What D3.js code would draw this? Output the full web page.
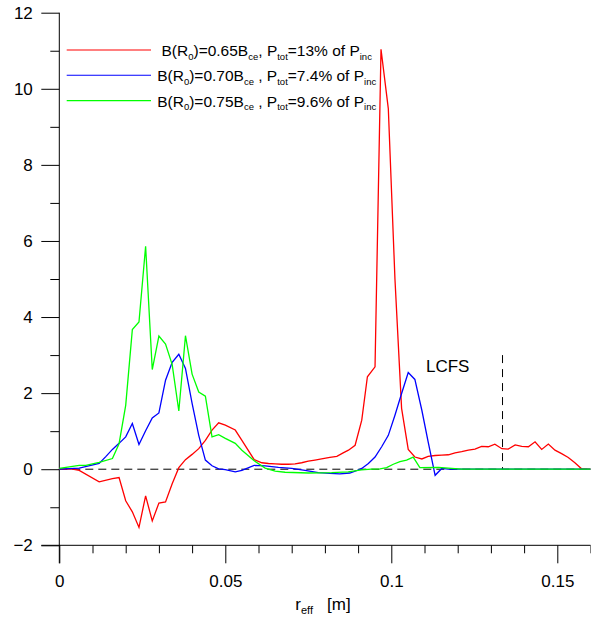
<!DOCTYPE html>
<html>
<head>
<meta charset="utf-8">
<script src="https://cdn.jsdelivr.net/npm/d3@7"></script>
<style>
  html, body { margin: 0; padding: 0; background: #fff; }
  svg { display: block; font-family: "Liberation Sans", Arial, sans-serif; }
</style>
</head>
<body>
<svg id="chart" width="591" height="618"></svg>
<script>
// Absorbed power density profiles vs effective radius for three field values

// B(R0)=0.65 Bce
const rRed = [0, 0.002, 0.004, 0.006, 0.012, 0.016, 0.018, 0.020, 0.022, 0.024, 0.026, 0.028, 0.030, 0.032,
  0.034, 0.036, 0.038, 0.040, 0.042, 0.044, 0.046, 0.048, 0.050, 0.053, 0.055, 0.0587, 0.061, 0.063, 0.065,
  0.067, 0.069, 0.071, 0.073, 0.075, 0.077, 0.079, 0.0815, 0.0836, 0.0855, 0.0871, 0.0891, 0.0911, 0.0928,
  0.0951, 0.0969, 0.0991, 0.1011, 0.1031, 0.1051, 0.1071, 0.1092, 0.1111, 0.1132, 0.1152, 0.1172, 0.1192,
  0.1212, 0.1232, 0.1252, 0.1272, 0.1292, 0.1312, 0.1333, 0.1352, 0.1373, 0.1393, 0.1413, 0.1433, 0.1453,
  0.1473, 0.1493, 0.1513, 0.1533, 0.1553, 0.1573, 0.16];
const pRed = [0, 0, 0, -0.03, -0.33, -0.25, -0.22, -0.83, -1.12, -1.53, -0.70, -1.36, -0.89, -0.86,
  -0.38, 0.04, 0.25, 0.39, 0.54, 0.76, 1.03, 1.22, 1.16, 1.03, 0.76, 0.25, 0.17, 0.15, 0.14,
  0.13, 0.13, 0.14, 0.17, 0.21, 0.24, 0.27, 0.31, 0.34, 0.43, 0.50, 0.63, 1.29, 2.43,
  2.69, 11.04, 9.48, 5.0, 1.6, 0.52, 0.32, 0.27, 0.34, 0.36, 0.37, 0.38, 0.43,
  0.46, 0.50, 0.53, 0.60, 0.59, 0.66, 0.54, 0.53, 0.64, 0.60, 0.59, 0.72, 0.52,
  0.66, 0.50, 0.41, 0.31, 0.17, 0.01, 0];

// B(R0)=0.70 Bce
const rBlue = [0, 0.006, 0.012, 0.014, 0.016, 0.018, 0.020, 0.022, 0.024, 0.026, 0.028, 0.030, 0.032, 0.034,
  0.036, 0.038, 0.040, 0.042, 0.044, 0.046, 0.048, 0.050, 0.053, 0.055, 0.0587, 0.062, 0.066, 0.070, 0.074,
  0.078, 0.0815, 0.0845, 0.0875, 0.0895, 0.0911, 0.0931, 0.0951, 0.0971, 0.0991, 0.1011, 0.1031, 0.1051,
  0.1071, 0.1092, 0.1111, 0.1132, 0.1152, 0.1172, 0.16];
const pBlue = [0, 0.03, 0.15, 0.33, 0.52, 0.68, 0.85, 1.20, 0.65, 1.01, 1.35, 1.48, 2.34, 2.81,
  3.02, 2.65, 1.73, 0.89, 0.24, 0.09, 0.01, -0.01, -0.07, -0.03, 0.10, 0.09, 0.05, 0.02, -0.03,
  -0.09, -0.11, -0.12, -0.10, -0.04, 0.02, 0.15, 0.32, 0.59, 0.89, 1.42, 1.99, 2.54,
  2.36, 1.55, 0.72, -0.16, 0.02, 0.0, 0.0];

// B(R0)=0.75 Bce
const rGreen = [0, 0.006, 0.008, 0.012, 0.016, 0.018, 0.020, 0.022, 0.024, 0.026, 0.028, 0.030, 0.032, 0.034,
  0.036, 0.038, 0.040, 0.042, 0.044, 0.046, 0.048, 0.050, 0.053, 0.055, 0.0587, 0.062, 0.065, 0.068, 0.075,
  0.082, 0.087, 0.091, 0.094, 0.0966, 0.0986, 0.1006, 0.1026, 0.1046, 0.1066, 0.1086, 0.1142, 0.1172,
  0.1212, 0.16];
const pGreen = [0.02, 0.1, 0.1, 0.18, 0.28, 0.67, 1.68, 3.67, 3.87, 5.86, 2.62, 3.50, 3.29, 2.75,
  1.53, 3.51, 2.50, 2.03, 1.92, 0.85, 0.91, 0.81, 0.68, 0.50, 0.22, 0.03, -0.05, -0.08, -0.10,
  -0.09, -0.07, -0.02, 0.0, 0.01, 0.04, 0.13, 0.20, 0.24, 0.32, 0.04, 0.05, 0.03,
  0.0, 0.0];

// Legend entries: [text, subscript] pieces
const legendParts = [
  [["B(R", ""], ["0", "sub"], [")=0.65B", ""], ["ce", "sub"], [", P", ""], ["tot", "sub"], ["=13% of P", ""], ["inc", "sub"]],
  [["B(R", ""], ["0", "sub"], [")=0.70B", ""], ["ce", "sub"], [" , P", ""], ["tot", "sub"], ["=7.4% of P", ""], ["inc", "sub"]],
  [["B(R", ""], ["0", "sub"], [")=0.75B", ""], ["ce", "sub"], [" , P", ""], ["tot", "sub"], ["=9.6% of P", ""], ["inc", "sub"]]
];
const seriesColors = ["#ff0000", "#0000ff", "#00ff00"];

const xMajor = [0, 0.05, 0.1, 0.15];
const xMinor = [0.01, 0.02, 0.03, 0.04, 0.06, 0.07, 0.08, 0.09, 0.11, 0.12, 0.13, 0.14, 0.16];
const yMajor = [-2, 0, 2, 4, 6, 8, 10, 12];
const yMinor = [-1, 1, 3, 5, 7, 9, 11];
const lcfsR = 0.1335;
const lcfsTop = 3.0;

const svg = d3.select("#chart");
const x = d3.scaleLinear().domain([0, 0.16]).range([59.3, 590.5]);
const y = d3.scaleLinear().domain([-2, 12]).range([545.3, 12.7]);

const fontSize = 17;
const legendFont = 15.5;
const subFont = 9.5;

// Axes
const gx = svg.append("g").attr("transform", `translate(0,${y(-2)})`);
gx.call(d3.axisBottom(x).tickValues(xMajor).tickSize(18).tickPadding(12)
  .tickFormat(d => d === 0 ? "0" : d3.format("~g")(d)));
gx.append("g").call(d3.axisBottom(x).tickValues(xMinor).tickSize(8).tickFormat(""));
gx.selectAll(".domain").remove();

const gy = svg.append("g").attr("transform", `translate(${x(0)},0)`);
gy.call(d3.axisLeft(y).tickValues(yMajor).tickSize(18).tickPadding(8.5).tickFormat(d3.format("d")));
gy.append("g").call(d3.axisLeft(y).tickValues(yMinor).tickSize(9).tickFormat(""));
gy.selectAll(".domain").remove();

svg.selectAll(".tick text").attr("font-size", fontSize).attr("font-family", "'Liberation Sans', Arial, sans-serif").attr("fill", "#000");
svg.selectAll(".tick line").attr("stroke", "#000");

// Axis lines, crossing at the lower-left corner
svg.append("line").attr("x1", x(0) - 18).attr("x2", x(0.16))
  .attr("y1", y(-2)).attr("y2", y(-2)).attr("stroke", "#000");
svg.append("line").attr("x1", x(0)).attr("x2", x(0))
  .attr("y1", y(12)).attr("y2", y(-2) + 18).attr("stroke", "#000");

// Zero reference line
svg.append("line").attr("x1", x(0)).attr("x2", x(0.16))
  .attr("y1", y(0)).attr("y2", y(0))
  .attr("stroke", "#000").attr("stroke-dasharray", "8,5");

// LCFS marker
svg.append("line").attr("x1", x(lcfsR)).attr("x2", x(lcfsR))
  .attr("y1", y(lcfsTop)).attr("y2", y(0))
  .attr("stroke", "#000").attr("stroke-dasharray", "8,6");
svg.append("text").attr("x", 426).attr("y", 372).attr("font-size", fontSize).text("LCFS");

// Profiles
const line = d3.line().x(d => x(d[0])).y(d => y(d[1]));
const series = [
  d3.zip(rRed, pRed),
  d3.zip(rBlue, pBlue),
  d3.zip(rGreen, pGreen)
];
series.forEach((pts, i) => {
  svg.append("path").datum(pts).attr("d", line)
    .attr("fill", "none").attr("stroke", seriesColors[i]).attr("stroke-width", 1.3)
    .attr("stroke-linejoin", "miter");
});

// Legend
const legY = [50, 75.3, 100.6];
legendParts.forEach((parts, i) => {
  svg.append("line").attr("x1", 66.7).attr("x2", 151).attr("y1", legY[i]).attr("y2", legY[i])
    .attr("stroke", seriesColors[i]).attr("stroke-width", 1.1);
  const t = svg.append("text").attr("x", 266.7).attr("y", legY[i] + 6)
    .attr("text-anchor", "middle").attr("font-size", legendFont);
  let shifted = false;
  parts.forEach(([s, kind]) => {
    const ts = t.append("tspan").text(s);
    if (kind === "sub") {
      ts.attr("font-size", subFont).attr("dy", shifted ? 0 : 3.5);
      shifted = true;
    } else {
      if (shifted) ts.attr("dy", -3.5);
      shifted = false;
    }
  });
});

// X axis title
const xt = svg.append("text").attr("x", 323).attr("y", 610)
  .attr("text-anchor", "middle").attr("font-size", fontSize);
xt.append("tspan").text("r");
xt.append("tspan").text("eff").attr("font-size", 11).attr("dy", 4);
xt.append("tspan").text("\u00a0\u00a0 [m]").attr("dy", -4);
</script>
</body>
</html>
